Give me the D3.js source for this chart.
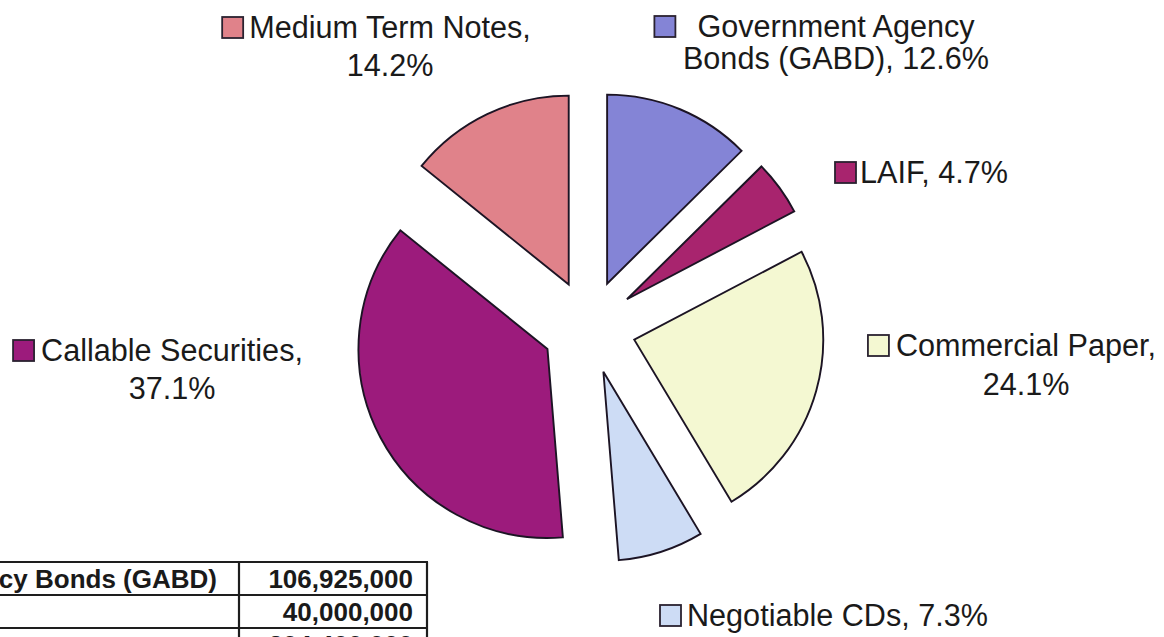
<!DOCTYPE html>
<html>
<head>
<meta charset="utf-8">
<script src="https://cdn.jsdelivr.net/npm/d3@7"></script>
<style>
  html, body { margin: 0; padding: 0; background: #fff; }
  svg { display: block; }
  text { font-family: "Liberation Sans", Arial, sans-serif; fill: #1a1a1a; }
</style>
</head>
<body>
<svg id="chart" width="1164" height="637"></svg>
<script>
// ---------- data ----------
const categories = ["Government Agency Bonds (GABD)", "LAIF", "Commercial Paper", "Negotiable CDs", "Callable Securities", "Medium Term Notes"];
const shares = [12.6, 4.7, 24.1, 7.3, 37.1, 14.2];
const colors = ["#8484D6", "#A8246E", "#F4F8D2", "#CDDCF5", "#9C1B7C", "#E0828A"];

const tableLabels = ["Government Agency Bonds (GABD)", "LAIF", "Commercial Paper"];
const tableValues = [106925000, 40000000, 204400000];

// ---------- layout ----------
const W = 1164, H = 637;
const cx = 589, cy = 327, R = 189, explode = 47;
// label layout per slice: words on first line (0 = single line), anchor x, baselines, key gap
const labelLayout = [
  { split: 2, x: 836, y: [37, 69], gap: 22 },
  { split: 0, x: 860, y: [183], gap: 4 },
  { split: 2, x: 1026, y: [356, 395], gap: 7 },
  { split: 0, x: 687, y: [626], gap: 6 },
  { split: 2, x: 172, y: [361, 399], gap: 7 },
  { split: 3, x: 390, y: [38, 76], gap: 6 }
];
const fontSize = 30.6, keySize = 21;

const svg = d3.select("#chart");
svg.append("rect").attr("width", W).attr("height", H).attr("fill", "#fff");

// ---------- pie ----------
const pieData = d3.pie().sort(null).value(d => d.v)
  .startAngle(0).endAngle(2 * Math.PI)(shares.map((v, i) => ({ v, i })));
const arc = d3.arc().innerRadius(0).outerRadius(R);

const g = svg.append("g").attr("transform", `translate(${cx},${cy})`);
g.selectAll("path").data(pieData).join("path")
  .attr("d", arc)
  .attr("transform", d => {
    const a = (d.startAngle + d.endAngle) / 2;
    return `translate(${explode * Math.sin(a)},${-explode * Math.cos(a)})`;
  })
  .attr("fill", d => colors[d.data.i])
  .attr("stroke", "#1c1424")
  .attr("stroke-width", 1.9)
  .attr("stroke-linejoin", "miter");

// ---------- labels ----------
const labels = svg.append("g");
categories.forEach((cat, i) => {
  const L = labelLayout[i];
  const full = `${cat}, ${shares[i]}%`;
  const words = full.split(" ");
  const lines = L.split ? [words.slice(0, L.split).join(" "), words.slice(L.split).join(" ")] : [full];
  const anchor = L.split ? "middle" : "start";
  let firstStart = L.x;
  lines.forEach((ln, k) => {
    const t = labels.append("text")
      .attr("x", L.x).attr("y", L.y[k])
      .attr("text-anchor", anchor)
      .attr("font-size", fontSize)
      .text(ln);
    if (k === 0) {
      const w = t.node().getComputedTextLength();
      firstStart = anchor === "middle" ? L.x - w / 2 : L.x;
    }
  });
  labels.append("rect")
    .attr("x", firstStart - L.gap - keySize)
    .attr("y", L.y[0] - keySize)
    .attr("width", keySize).attr("height", keySize)
    .attr("fill", colors[i])
    .attr("stroke", "#2a2230").attr("stroke-width", 1.8);
});

// ---------- table ----------
const tTop = 562, rowH = 33, colX = 239, rightX = 427, labelEnd = 217;
const tbl = svg.append("g");
const fmt = d3.format(",");
const probe = tbl.append("text").attr("font-size", 26).attr("font-weight", "bold").text(tableLabels[0]);
const w0 = probe.node().getComputedTextLength();
probe.remove();
const labelStart = labelEnd - w0;

tableLabels.forEach((lab, i) => {
  const top = tTop + i * rowH;
  tbl.append("text").attr("x", labelStart).attr("y", top + 26)
    .attr("font-size", 26).attr("font-weight", "bold").text(lab);
  tbl.append("text").attr("x", 413).attr("y", top + 26)
    .attr("text-anchor", "end")
    .attr("font-size", 26).attr("font-weight", "bold").text(fmt(tableValues[i]));
});
const lineC = "#1e1e1e";
for (let i = 0; i <= tableLabels.length; i++) {
  tbl.append("line").attr("x1", -5).attr("x2", rightX + 1)
    .attr("y1", tTop + i * rowH).attr("y2", tTop + i * rowH)
    .attr("stroke", lineC).attr("stroke-width", 2.2);
}
[colX, rightX].forEach(x => {
  tbl.append("line").attr("x1", x).attr("x2", x)
    .attr("y1", tTop).attr("y2", tTop + tableLabels.length * rowH)
    .attr("stroke", lineC).attr("stroke-width", 2.2);
});
</script>
</body>
</html>
